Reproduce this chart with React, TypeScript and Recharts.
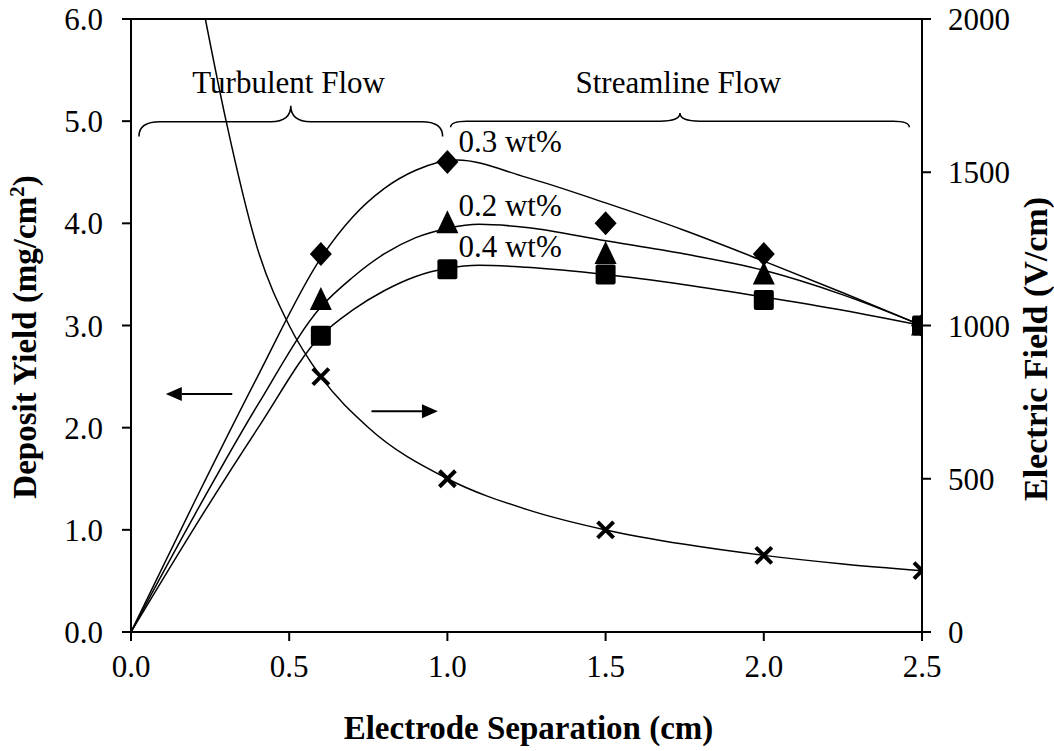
import React from 'react'
import {
  ComposedChart, Line, Scatter, XAxis, YAxis, ReferenceLine, ReferenceArea, ReferenceDot, Label,
} from 'recharts'

const FONT = '"Liberation Serif", "Times New Roman", serif'

// measured points (markers)
const markerX = [0.6, 1.0, 1.5, 2.0, 2.5]
const yield03 = [3.7, 4.6, 4.0, 3.7, 3.0]
const yield02 = [3.25, 4.0, 3.7, 3.5, 3.0]
const yield04 = [2.9, 3.55, 3.5, 3.25, 3.0]
const fieldPts = [833, 500, 333, 250, 200]

// fitted curves
const fit03X = [0, 0.2, 0.4, 0.6, 0.7, 0.8, 0.9, 1.03, 1.25, 1.5, 1.75, 2.0, 2.25, 2.5]
const fit03 = [0, 1.27, 2.5, 3.66, 4.06, 4.34, 4.52, 4.62, 4.45, 4.2, 3.93, 3.63, 3.32, 3.0]
const fit02X = [0, 0.2, 0.4, 0.6, 0.7, 0.8, 0.9, 1.0, 1.1, 1.25, 1.5, 1.75, 2.0, 2.25, 2.5]
const fit02 = [0, 1.14, 2.22, 3.18, 3.47, 3.7, 3.86, 3.95, 3.99, 3.96, 3.83, 3.7, 3.54, 3.3, 3.0]
const fit04X = [0, 0.2, 0.4, 0.6, 0.7, 0.8, 0.9, 1.0, 1.1, 1.25, 1.5, 1.75, 2.0, 2.25, 2.5]
const fit04 = [0, 1.02, 1.99, 2.9, 3.15, 3.34, 3.48, 3.56, 3.59, 3.57, 3.5, 3.4, 3.28, 3.15, 3.0]

const fieldFitX = [0.235, 0.3, 0.4, 0.5, 0.6, 0.75, 1.0, 1.25, 1.5, 1.75, 2.0, 2.25, 2.5]
const fieldFit = [2000, 1670, 1250, 1000, 833, 667, 500, 400, 333, 286, 250, 222, 200]

const xTicks = [0, 0.5, 1.0, 1.5, 2.0, 2.5]
const leftTicks = [0, 1, 2, 3, 4, 5, 6]
const rightTicks = [0, 500, 1000, 1500, 2000]

const pts = (xs: number[], ys: number[]) => xs.map((x, i) => ({ x, y: ys[i] }))

const tickStyle = { fill: '#000', fontSize: 31, fontFamily: FONT }
const axisStroke = { stroke: '#000', strokeWidth: 2 }

const Diamond = (p: any) => (
  <polygon points={`${p.cx},${p.cy - 12} ${p.cx + 11},${p.cy} ${p.cx},${p.cy + 12} ${p.cx - 11},${p.cy}`} fill="#000" />
)
const Triangle = (p: any) => (
  <polygon points={`${p.cx},${p.cy - 13} ${p.cx + 11},${p.cy + 10} ${p.cx - 11},${p.cy + 10}`} fill="#000" />
)
const Square = (p: any) => <rect x={p.cx - 10} y={p.cy - 10} width={20} height={20} rx={2} fill="#000" />
const Cross = (p: any) => (
  <g stroke="#000" strokeWidth={4}>
    <line x1={p.cx - 8} y1={p.cy - 8} x2={p.cx + 8} y2={p.cy + 8} />
    <line x1={p.cx - 8} y1={p.cy + 8} x2={p.cx + 8} y2={p.cy - 8} />
  </g>
)

// curly brace pointing up, drawn inside the reference area box
const brace = (mid: number, r: number) => (p: any) => {
  const { x, y, width: w, height: h } = p
  const m = y + h * mid
  const c = x + w / 2
  const d = `M${x},${y + h} Q${x},${m} ${x + r},${m} L${c - 20},${m} Q${c},${m} ${c},${y} Q${c},${m} ${c + 20},${m} L${x + w - r},${m} Q${x + w},${m} ${x + w},${y + h}`
  return <path d={d} fill="none" stroke="#000" strokeWidth={1.5} />
}

const arrow = (dir: number) => (p: any) => {
  const { x, y, width: w, height: h } = p
  const cy = y + h / 2
  const tip = dir > 0 ? x + w : x
  const base = tip - dir * 16
  return (
    <g>
      <line x1={dir > 0 ? x : x + w} y1={cy} x2={base} y2={cy} stroke="#000" strokeWidth={2} />
      <polygon points={`${tip},${cy} ${base},${cy - 7} ${base},${cy + 7}`} fill="#000" />
    </g>
  )
}

const note = (text: string, anchor: 'start' | 'middle') => (p: any) => (
  <text x={p.cx} y={p.cy} textAnchor={anchor} fontFamily={FONT} fontSize={31} fill="#000">{text}</text>
)

export default function App() {
  return (
    <div style={{ position: 'absolute', left: 0, top: 0, width: 1054, height: 751, background: '#fff' }}>
      <ComposedChart width={1054} height={751} margin={{ top: 19, right: 0, bottom: 0, left: 0 }}>
        <XAxis
          type="number" dataKey="x" domain={[0, 2.5]} ticks={xTicks} allowDataOverflow
          tickFormatter={(v) => v.toFixed(1)} tick={tickStyle} tickSize={9} tickMargin={14}
          axisLine={axisStroke} tickLine={axisStroke} height={119}
        >
          <Label content={(props: any) => {
            const vb = props.viewBox
            return (
              <text x={vb.x + vb.width / 2 + 2} y={739} textAnchor="middle" fontFamily={FONT} fontSize={33} fontWeight="bold" fill="#000">
                Electrode Separation (cm)
              </text>
            )
          }} />
        </XAxis>
        <YAxis
          yAxisId="left" type="number" domain={[0, 6]} ticks={leftTicks} allowDataOverflow
          tickFormatter={(v) => v.toFixed(1)} tick={tickStyle} tickSize={9} tickMargin={19}
          axisLine={axisStroke} tickLine={axisStroke} width={131}
        >
          <Label content={() => (
            <text x={36} y={337} transform="rotate(-90 36 337)" textAnchor="middle" fontFamily={FONT} fontSize={33} fontWeight="bold" fill="#000">
              Deposit Yield (mg/cm<tspan dy={-12} fontSize={21}>2</tspan><tspan dy={12}>)</tspan>
            </text>
          )} />
        </YAxis>
        <YAxis
          yAxisId="right" orientation="right" type="number" domain={[0, 2000]} ticks={rightTicks} allowDataOverflow
          tick={tickStyle} tickSize={9} tickMargin={17}
          axisLine={axisStroke} tickLine={axisStroke} width={132}
        >
          <Label content={() => (
            <text x={1047} y={349} transform="rotate(-90 1047 349)" textAnchor="middle" fontFamily={FONT} fontSize={34} fontWeight="bold" fill="#000">
              Electric Field (V/cm)
            </text>
          )} />
        </YAxis>

        <ReferenceLine yAxisId="left" y={6} stroke="#000" strokeWidth={2} />

        <Line yAxisId="left" data={pts(fit03X, fit03)} dataKey="y" type="monotone" stroke="#000" strokeWidth={1.5} dot={false} isAnimationActive={false} />
        <Line yAxisId="left" data={pts(fit02X, fit02)} dataKey="y" type="monotone" stroke="#000" strokeWidth={1.5} dot={false} isAnimationActive={false} />
        <Line yAxisId="left" data={pts(fit04X, fit04)} dataKey="y" type="monotone" stroke="#000" strokeWidth={1.5} dot={false} isAnimationActive={false} />
        <Line yAxisId="right" data={pts(fieldFitX, fieldFit)} dataKey="y" type="monotone" stroke="#000" strokeWidth={1.5} dot={false} isAnimationActive={false} />

        <Scatter yAxisId="left" data={pts(markerX, yield03)} dataKey="y" shape={Diamond} isAnimationActive={false} />
        <Scatter yAxisId="left" data={pts(markerX, yield02)} dataKey="y" shape={Triangle} isAnimationActive={false} />
        <Scatter yAxisId="left" data={pts(markerX, yield04)} dataKey="y" shape={Square} isAnimationActive={false} />
        <Scatter yAxisId="right" data={pts(markerX, fieldPts)} dataKey="y" shape={Cross} isAnimationActive={false} />

        <ReferenceArea yAxisId="left" x1={0.025} x2={0.985} y1={4.85} y2={5.15} shape={brace(0.52, 21)} />
        <ReferenceArea yAxisId="left" x1={1.01} x2={2.46} y1={4.94} y2={5.08} shape={brace(0.57, 16)} />
        <ReferenceArea yAxisId="left" x1={0.11} x2={0.32} y1={2.28} y2={2.38} shape={arrow(-1)} />
        <ReferenceArea yAxisId="left" x1={0.76} x2={0.97} y1={2.11} y2={2.21} shape={arrow(1)} />

        <ReferenceDot yAxisId="left" x={0.498} y={5.28} shape={note('Turbulent Flow', 'middle')} />
        <ReferenceDot yAxisId="left" x={1.73} y={5.28} shape={note('Streamline Flow', 'middle')} />
        <ReferenceDot yAxisId="left" x={1.035} y={4.7} shape={note('0.3 wt%', 'start')} />
        <ReferenceDot yAxisId="left" x={1.035} y={4.07} shape={note('0.2 wt%', 'start')} />
        <ReferenceDot yAxisId="left" x={1.035} y={3.67} shape={note('0.4 wt%', 'start')} />
      </ComposedChart>
    </div>
  )
}
